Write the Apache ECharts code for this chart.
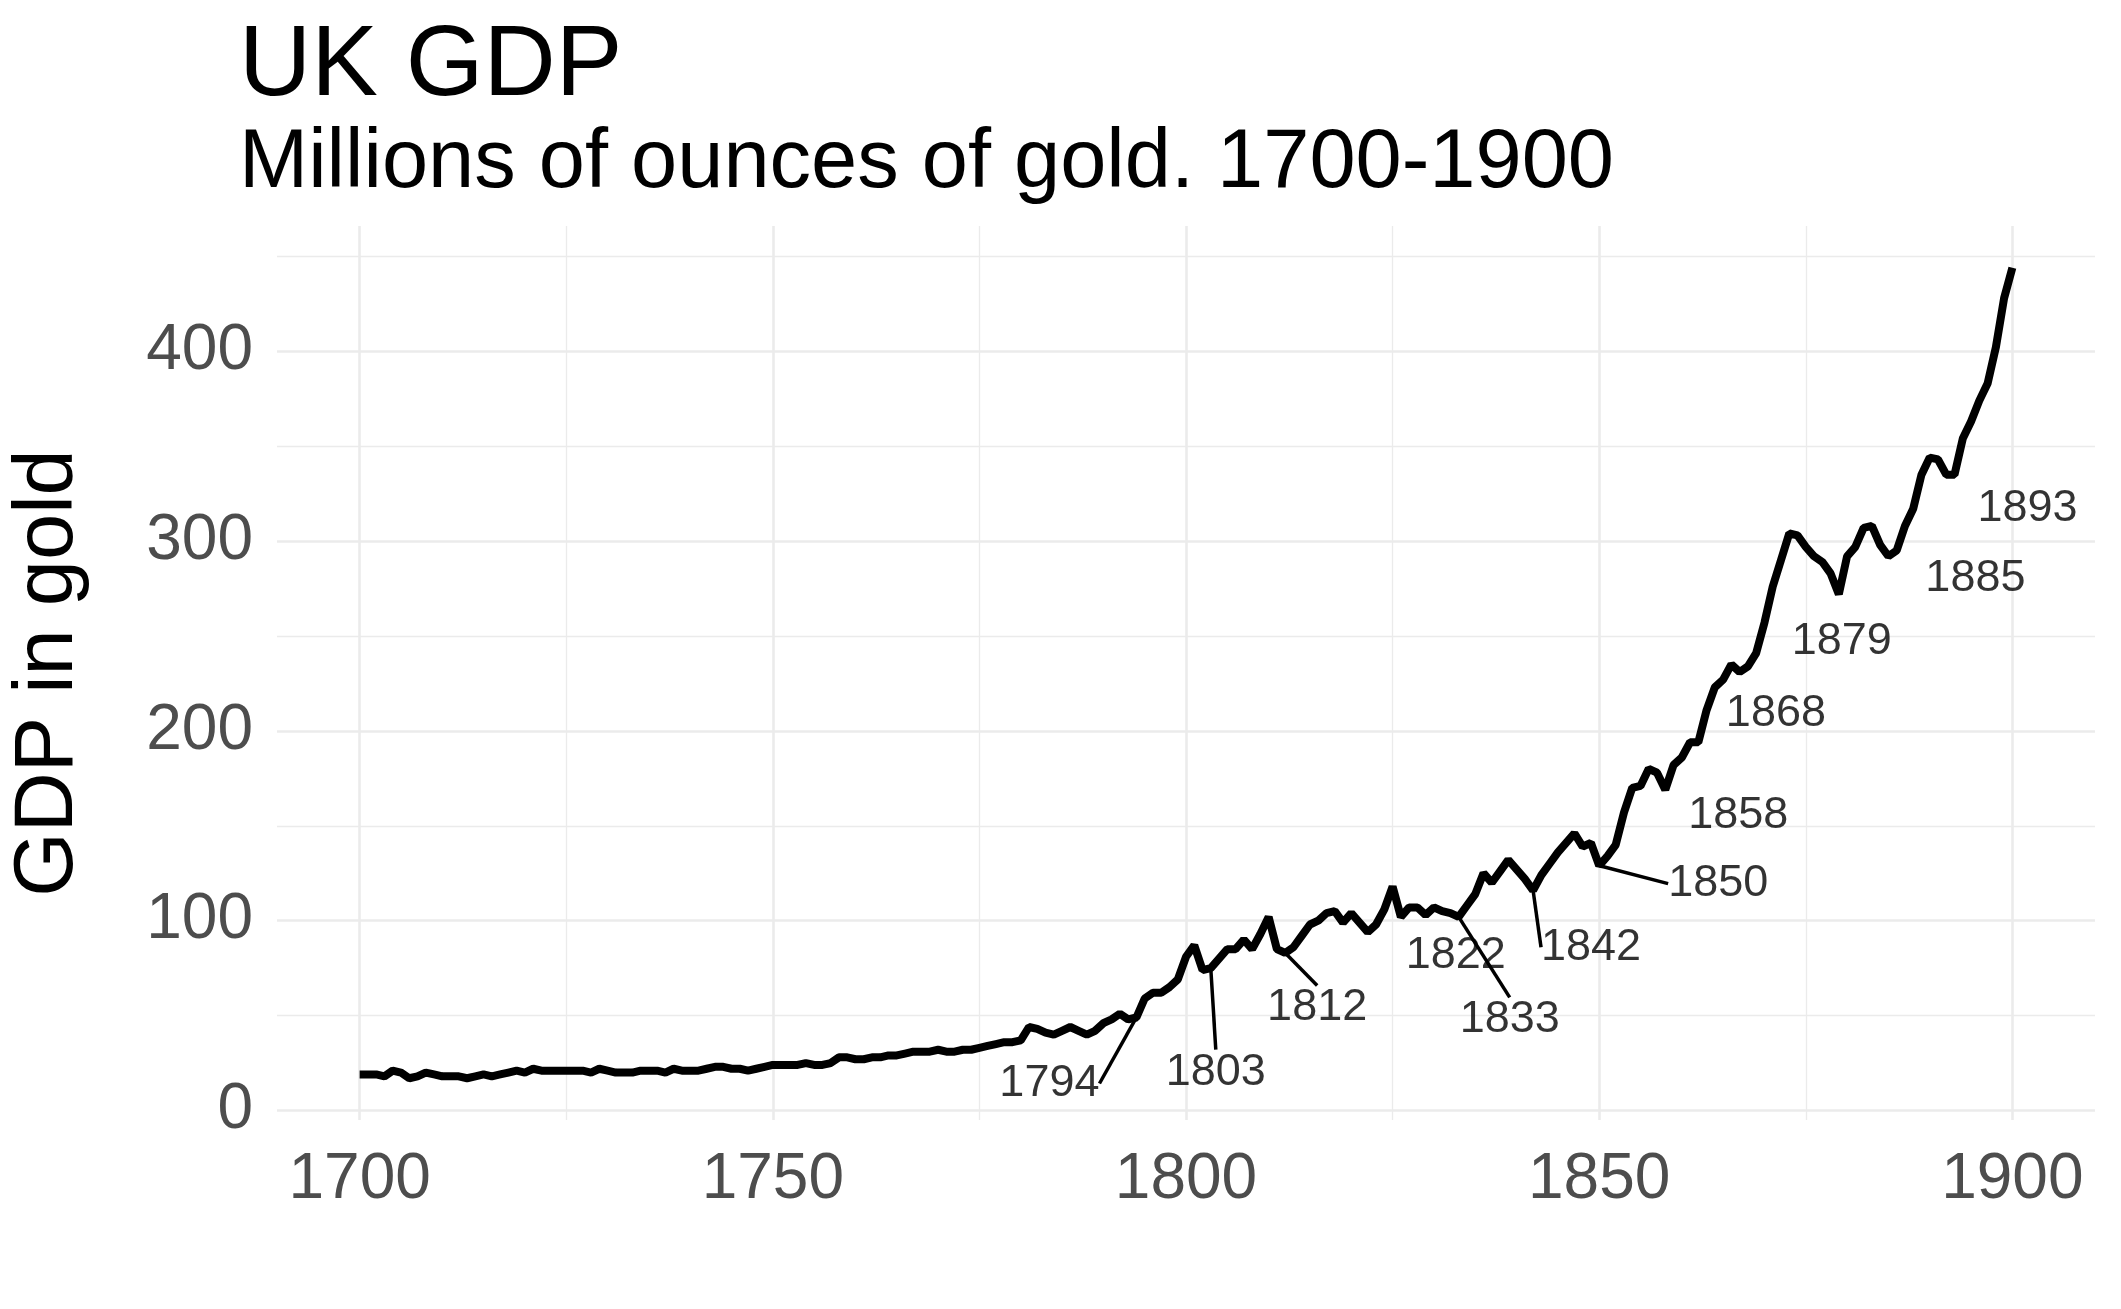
<!DOCTYPE html>
<html>
<head>
<meta charset="utf-8">
<script src="https://cdn.jsdelivr.net/npm/echarts@6/dist/echarts.min.js"></script>
<style>html,body{margin:0;padding:0;background:#fff}#chart{width:2121px;height:1309px}</style>
</head>
<body>
<div id="chart"></div>
<script>
// GDP, millions of ounces of gold, one value per year 1700..1900
const years = []
for (let y = 1700; y <= 1900; y++) years.push(y)
const gdp = [
  19, 19, 19, 18, 21, 20, 17, 18, 20, 19, 18, 18, 18, 17, 18, 19, 18, 19, 20, 21,
  20, 22, 21, 21, 21, 21, 21, 21, 20, 22, 21, 20, 20, 20, 21, 21, 21, 20, 22, 21,
  21, 21, 22, 23, 23, 22, 22, 21, 22, 23, 24, 24, 24, 24, 25, 24, 24, 25, 28, 28,
  27, 27, 28, 28, 29, 29, 30, 31, 31, 31, 32, 31, 31, 32, 32, 33, 34, 35, 36, 36,
  37, 44, 43, 41, 40, 42, 44, 42, 40, 42, 46, 48, 51, 48, 49, 59, 62, 62, 65, 69,
  81, 87, 74, 75, 80, 85, 85, 90, 85, 93, 102, 85, 83, 86, 92, 98, 100, 104, 105, 99,
  104, 99, 94, 98, 106, 118, 102, 107, 107, 103, 107, 105, 104, 102, 108, 114, 125, 120, 126, 132,
  127, 122, 116, 124, 130, 136, 141, 146, 139, 141, 129, 134, 140, 157, 170, 171, 180, 178, 169, 182,
  186, 194, 194, 211, 223, 227, 235, 231, 234, 241, 257, 276, 290, 304, 303, 297, 292, 289, 283, 272,
  292, 297, 307, 308, 298, 292, 295, 308, 317, 335, 344, 343, 335, 335, 354, 363, 374, 383, 402, 428,
  444
]

// labelled years and label offsets (px) from their points
const labelYears = [1794, 1803, 1812, 1822, 1833, 1842, 1850, 1858, 1868, 1879, 1885, 1893]
const labelDx = [-87, 5, 32, 88, 51, 58, 119, 73, 28, 3, 87, 73]
const labelDy = [66, 104, 55, 24, 103, 57, 18, 26, 47, 47, 22, 34]
const withSegment = [1794, 1803, 1812, 1833, 1842, 1850]

const xMajor = [1700, 1750, 1800, 1850, 1900]
const xMinor = [1725, 1775, 1825, 1875]
const yMajor = [0, 100, 200, 300, 400]
const yMinor = [50, 150, 250, 350, 450]

const chart = echarts.init(document.getElementById('chart'))

const gridStyle = (w) => ({ color: '#ebebeb', width: w, type: 'solid' })
const gridLines = [
  ...xMajor.map(v => ({ xAxis: v, lineStyle: gridStyle(2.6) })),
  ...xMinor.map(v => ({ xAxis: v, lineStyle: gridStyle(1.3) })),
  ...yMajor.map(v => ({ yAxis: v, lineStyle: gridStyle(2.6) })),
  ...yMinor.map(v => ({ yAxis: v, lineStyle: gridStyle(1.3) }))
]

const labelPoints = labelYears.map((y, i) => ({
  value: [y, gdp[y - 1700]],
  labelLine: { show: withSegment.includes(y) }
}))

chart.setOption({
  animation: false,
  title: {
    text: 'UK GDP',
    subtext: 'Millions of ounces of gold. 1700-1900',
    left: 234,
    top: 12,
    itemGap: 6,
    textStyle: { fontFamily: 'Liberation Sans', fontSize: 100, fontWeight: 'normal', color: '#000' },
    subtextStyle: { fontFamily: 'Liberation Sans', fontSize: 83, color: '#000' }
  },
  grid: { left: 240, right: 26, top: 226, bottom: 189 },
  xAxis: {
    type: 'value',
    min: 1690,
    max: 1910,
    splitLine: { show: false },
    axisLine: { show: false },
    axisTick: { show: false },
    axisLabel: {
      customValues: xMajor,
      formatter: v => String(v),
      fontFamily: 'Liberation Sans',
      fontSize: 64,
      color: '#4d4d4d',
      margin: 28
    }
  },
  yAxis: {
    type: 'value',
    min: -5,
    max: 466,
    name: 'GDP in gold',
    nameLocation: 'middle',
    nameGap: 186,
    nameTextStyle: { fontFamily: 'Liberation Sans', fontSize: 83, color: '#000' },
    splitLine: { show: false },
    axisLine: { show: false },
    axisTick: { show: false },
    axisLabel: {
      customValues: yMajor,
      formatter: v => String(v),
      fontFamily: 'Liberation Sans',
      fontSize: 64,
      color: '#4d4d4d',
      margin: 24
    }
  },
  series: [
    {
      type: 'line',
      data: years.map((y, i) => [y, gdp[i]]),
      showSymbol: false,
      lineStyle: { color: '#000', width: 8 },
      markLine: {
        silent: true,
        symbol: 'none',
        label: { show: false },
        data: gridLines,
        z: -1
      },
      z: 3
    },
    {
      type: 'scatter',
      data: labelPoints,
      symbolSize: 1,
      itemStyle: { color: 'rgba(0,0,0,0)' },
      label: {
        show: true,
        formatter: p => String(p.value[0]),
        fontFamily: 'Liberation Sans',
        fontSize: 45,
        color: '#000'
      },
      labelLine: { show: true, lineStyle: { color: '#000', width: 3.5 } },
      labelLayout: p => ({
        dx: labelDx[p.dataIndex],
        dy: labelDy[p.dataIndex],
        align: 'center',
        verticalAlign: 'middle'
      }),
      z: 4
    }
  ]
})
</script>
</body>
</html>
